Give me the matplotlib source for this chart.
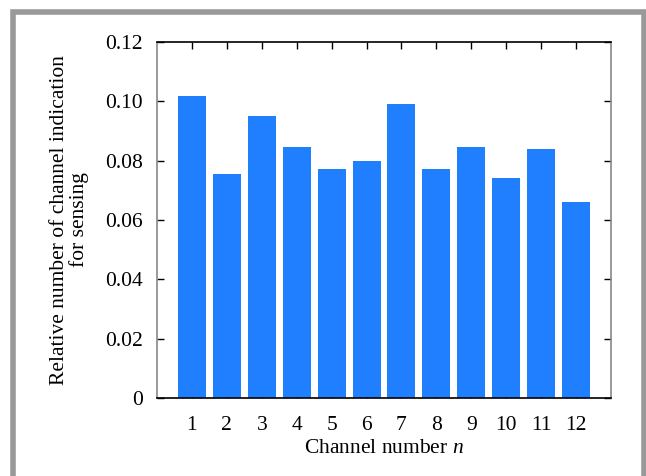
import numpy as np
import matplotlib
matplotlib.use("Agg")
from matplotlib import pyplot as plt
from matplotlib.patches import Rectangle

channels = [1, 2, 3, 4, 5, 6, 7, 8, 9, 10, 11, 12]
values = [0.1018, 0.0756, 0.0951, 0.0847, 0.0773, 0.0800,
          0.0990, 0.0773, 0.0847, 0.0743, 0.0841, 0.0660]
y_ticks = [0, 0.02, 0.04, 0.06, 0.08, 0.10, 0.12]
y_labels = ['0', '0.02', '0.04', '0.06', '0.08', '0.10', '0.12']

plt.rcParams['font.family'] = ['Liberation Serif', 'DejaVu Serif']
plt.rcParams['mathtext.fontset'] = 'custom'
plt.rcParams['mathtext.it'] = 'Liberation Serif:italic'
plt.rcParams['mathtext.rm'] = 'Liberation Serif'

fig = plt.figure(figsize=(6.46, 4.76), dpi=100)
W, H = 646, 476
ax = fig.add_axes([157 / W, 1 - 398 / H, (611 - 157) / W, (398 - 42) / H])

ax.bar(channels, values, width=0.8, color='#1f7fff', zorder=2)
ax.set_xlim(0, 13)
ax.set_ylim(0, 0.12)
ax.set_xticks(channels)
ax.set_xticklabels([str(c) for c in channels])
ax.set_yticks(y_ticks)
ax.set_yticklabels(y_labels)
ax.tick_params(direction='in', top=True, right=True, labelsize=15.5, length=5,
               width=1, pad=10)
ax.tick_params(axis='x', pad=13)
for side in ['left', 'right']:
    ax.spines[side].set_color('#888888')
for side in ax.spines:
    ax.spines[side].set_linewidth(1.2)

ax.set_xlabel('Channel number $n$', fontsize=15.5, labelpad=3)
ax.set_ylabel('Relative number of channel indication\nfor sensing', fontsize=15.5,
              linespacing=0.95, labelpad=12)

# grey frame around the figure, cut at the bottom edge
fig.patches.append(Rectangle((13.5 / W, -0.1), (644 - 13.5) / W, 1.1 - 12.5 / H,
                             transform=fig.transFigure, fill=False,
                             edgecolor='#999999', linewidth=4))

fig.savefig('out.png', dpi=100)
